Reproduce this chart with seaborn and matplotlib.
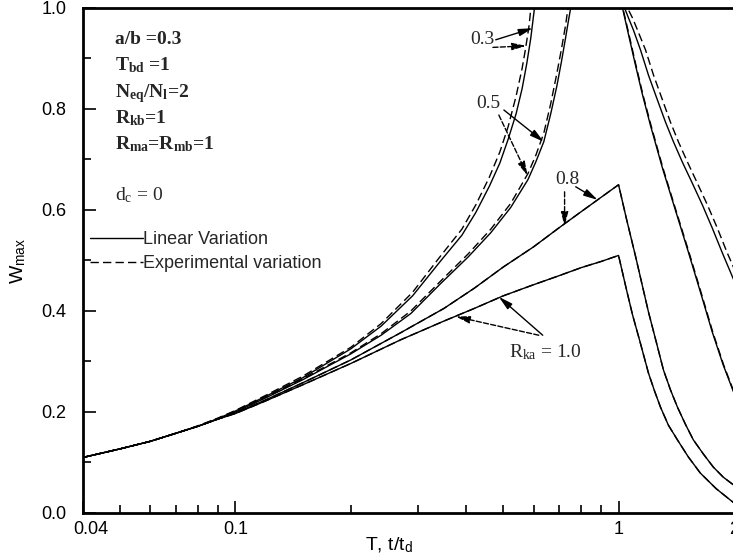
import matplotlib
matplotlib.use("Agg")
import matplotlib.pyplot as plt
import matplotlib.transforms as mtransforms
from matplotlib.lines import Line2D
from matplotlib.ticker import FixedLocator, FixedFormatter, NullFormatter
import pandas as pd
import seaborn as sns

# ---- data: maximum deflection W_max versus time ratio T = t/t_d ----
# Each curve rises up to T = 1 and then decays; values above 1.0 lie outside the frame.
T_lin_03 = [0.04, 0.05, 0.06, 0.07, 0.08, 0.09, 0.1, 0.12, 0.15, 0.2, 0.24, 0.29, 0.344,
            0.39, 0.424, 0.46, 0.49, 0.515, 0.54, 0.56, 0.576, 0.59, 0.6, 0.61,
            1.0, 1.037, 1.062, 1.094, 1.141, 1.197, 1.263, 1.326, 1.391, 1.467, 1.558,
            1.655, 1.757, 1.866, 2.0]
W_lin_03 = [0.110, 0.127, 0.142, 0.158, 0.172, 0.187, 0.202, 0.231, 0.268, 0.325, 0.370, 0.430, 0.500,
            0.550, 0.595, 0.647, 0.693, 0.740, 0.790, 0.840, 0.890, 0.940, 0.985, 1.03,
            1.05, 1.0, 0.980, 0.956, 0.917, 0.867, 0.818, 0.774, 0.735, 0.695, 0.653,
            0.610, 0.564, 0.515, 0.461]
T_exp_03 = [0.04, 0.05, 0.06, 0.07, 0.08, 0.09, 0.1, 0.12, 0.15, 0.2, 0.24, 0.29, 0.344,
            0.39, 0.424, 0.46, 0.49, 0.515, 0.54, 0.56, 0.572, 0.584, 0.594,
            1.0, 1.055, 1.088, 1.121, 1.176, 1.234, 1.302, 1.366, 1.433, 1.513, 1.606,
            1.706, 1.811, 1.922, 2.0]
W_exp_03 = [0.110, 0.127, 0.142, 0.158, 0.173, 0.188, 0.203, 0.233, 0.271, 0.328, 0.375, 0.437, 0.510,
            0.562, 0.610, 0.665, 0.715, 0.765, 0.825, 0.880, 0.920, 0.965, 1.02,
            1.05, 1.0, 0.980, 0.956, 0.917, 0.867, 0.818, 0.774, 0.735, 0.695, 0.653,
            0.610, 0.564, 0.515, 0.485]

T_lin_05 = [0.04, 0.05, 0.06, 0.07, 0.08, 0.09, 0.1, 0.12, 0.15, 0.2, 0.24, 0.287, 0.344,
            0.405, 0.464, 0.523, 0.58, 0.608, 0.638, 0.665, 0.69, 0.71, 0.727, 0.74, 0.75, 0.76,
            1.0, 1.024, 1.062, 1.107, 1.155, 1.211, 1.302, 1.407, 1.521, 1.635, 1.757, 1.876, 2.0]
W_lin_05 = [0.110, 0.127, 0.142, 0.158, 0.172, 0.186, 0.200, 0.228, 0.264, 0.315, 0.352, 0.395, 0.455,
            0.507, 0.555, 0.605, 0.660, 0.695, 0.735, 0.790, 0.845, 0.895, 0.940, 0.975, 1.0, 1.03,
            1.04, 1.0, 0.947, 0.887, 0.828, 0.768, 0.683, 0.600, 0.517, 0.438, 0.358, 0.293, 0.238]
T_exp_05 = [0.04, 0.05, 0.06, 0.07, 0.08, 0.09, 0.1, 0.12, 0.15, 0.2, 0.24, 0.287, 0.344,
            0.405, 0.464, 0.523, 0.58, 0.608, 0.638, 0.665, 0.69, 0.71, 0.727, 0.738, 0.748,
            1.0, 1.026, 1.065, 1.11, 1.158, 1.215, 1.306, 1.411, 1.526, 1.64, 1.762, 1.881, 2.0]
W_exp_05 = [0.110, 0.127, 0.142, 0.158, 0.172, 0.187, 0.201, 0.229, 0.266, 0.317, 0.355, 0.400, 0.460,
            0.513, 0.562, 0.613, 0.672, 0.708, 0.752, 0.810, 0.870, 0.920, 0.965, 1.0, 1.03,
            1.04, 1.0, 0.947, 0.887, 0.828, 0.768, 0.683, 0.600, 0.517, 0.438, 0.358, 0.293, 0.240]

T_lin_08 = [0.04, 0.05, 0.06, 0.07, 0.08, 0.09, 0.1, 0.12, 0.15, 0.2, 0.27, 0.35, 0.42,
            0.5, 0.6, 0.7, 0.8, 0.9, 1.0, 1.049, 1.107, 1.197, 1.256, 1.31, 1.366, 1.424,
            1.494, 1.567, 1.664, 1.767, 1.876, 2.0]
W_lin_08 = [0.110, 0.127, 0.142, 0.158, 0.172, 0.186, 0.198, 0.224, 0.258, 0.303, 0.357, 0.405, 0.445,
            0.487, 0.527, 0.565, 0.597, 0.625, 0.650, 0.582, 0.509, 0.398, 0.337, 0.283, 0.244, 0.210,
            0.176, 0.145, 0.117, 0.091, 0.071, 0.055]
T_exp_08 = T_lin_08
W_exp_08 = W_lin_08

T_lin_10 = [0.04, 0.05, 0.06, 0.07, 0.08, 0.09, 0.1, 0.12, 0.15, 0.2, 0.27, 0.35, 0.42,
            0.5, 0.6, 0.7, 0.8, 0.9, 1.0, 1.049, 1.088, 1.134, 1.197, 1.241, 1.286, 1.349,
            1.424, 1.521, 1.635, 1.799, 2.0]
W_lin_10 = [0.110, 0.127, 0.142, 0.158, 0.172, 0.186, 0.197, 0.222, 0.254, 0.296, 0.343, 0.380, 0.405,
            0.430, 0.452, 0.470, 0.486, 0.498, 0.510, 0.442, 0.392, 0.343, 0.277, 0.242, 0.210, 0.174,
            0.145, 0.111, 0.079, 0.048, 0.020]
T_exp_10 = T_lin_10
W_exp_10 = W_lin_10

x_ticks = [0.04, 0.1, 1, 2]
x_tick_labels = ["0.04", "0.1", "1", "2"]
y_ticks = [0.0, 0.2, 0.4, 0.6, 0.8, 1.0]
y_tick_labels = ["0.0", "0.2", "0.4", "0.6", "0.8", "1.0"]

param_lines = ["a/b =0.3",
               r"$\mathbf{T_{bd}}$ =1",
               r"$\mathbf{N_{eq}/N_{l}}$=2",
               r"$\mathbf{R_{kb}}$=1",
               r"$\mathbf{R_{ma}}$=$\mathbf{R_{mb}}$=1"]

# ---- style ----
sns.set_theme(style="ticks")
plt.rcParams["font.family"] = ["Liberation Sans", "DejaVu Sans"]
plt.rcParams["mathtext.fontset"] = "custom"
plt.rcParams["mathtext.rm"] = "Liberation Serif"
plt.rcParams["mathtext.it"] = "Liberation Serif:italic"
plt.rcParams["mathtext.bf"] = "Liberation Serif:bold"
plt.rcParams["mathtext.sf"] = "Liberation Sans"

fig = plt.figure(figsize=(7.33, 5.59), dpi=100)
ax = fig.add_axes([0.1132, 0.0823, 0.888, 0.9034])

DASH = (0, (6, 3))
series = [
    (T_lin_03, W_lin_03, "-"), (T_exp_03, W_exp_03, DASH),
    (T_lin_05, W_lin_05, "-"), (T_exp_05, W_exp_05, DASH),
    (T_lin_08, W_lin_08, "-"), (T_exp_08, W_exp_08, DASH),
    (T_lin_10, W_lin_10, "-"), (T_exp_10, W_exp_10, DASH),
]
for t, w, ls in series:
    df = pd.DataFrame({"T": t, "W": w})
    sns.lineplot(data=df, x="T", y="W", ax=ax, color="black", lw=1.0,
                 sort=False, estimator=None, linestyle=ls)

ax.set_xscale("log")
ax.set_xlim(0.04, 2)
ax.set_ylim(0, 1)

# ticks
ax.xaxis.set_major_locator(FixedLocator(x_ticks))
ax.xaxis.set_major_formatter(FixedFormatter(x_tick_labels))
minor_x = [0.05, 0.06, 0.07, 0.08, 0.09, 0.2, 0.3, 0.4, 0.5, 0.6, 0.7, 0.8, 0.9]
ax.xaxis.set_minor_locator(FixedLocator(minor_x))
ax.xaxis.set_minor_formatter(NullFormatter())
ax.yaxis.set_major_locator(FixedLocator(y_ticks))
ax.yaxis.set_major_formatter(FixedFormatter(y_tick_labels))
ax.yaxis.set_minor_locator(FixedLocator([0.1, 0.3, 0.5, 0.7, 0.9]))
ax.tick_params(which="major", direction="in", length=9, width=1.2, labelsize=13,
               color="black", labelcolor="black", pad=6)
ax.tick_params(which="minor", direction="in", length=6, width=1.2, color="black")
ax.tick_params(axis="y", which="major", pad=12)

for s in ["left", "bottom", "top"]:
    ax.spines[s].set_linewidth(2.0)
    ax.spines[s].set_color("black")
ax.spines["right"].set_visible(False)

# nudge the first x tick label off the corner
shift = mtransforms.ScaledTranslation(8 / 100, 0, fig.dpi_scale_trans)
first_lbl = ax.get_xticklabels()[0]
first_lbl.set_transform(first_lbl.get_transform() + shift)

ax.set_xlabel(r"T, t/t$_{\mathsf{d}}$", fontsize=14, color="black")
ax.set_ylabel(r"W$_{\mathsf{max}}$", fontsize=14, color="black")
ax.xaxis.set_label_coords(0.47, -0.045)
ax.yaxis.set_label_coords(-0.085, 0.5)

# parameter block
y0 = 0.928
for i, s in enumerate(param_lines):
    ax.text(0.049, y0 - i * 0.052, s, transform=ax.transAxes, fontsize=14,
            family="Liberation Serif", weight="bold", va="baseline", ha="left")
ax.text(0.049, 0.620, r"d$_{\mathrm{c}}$ = 0", transform=ax.transAxes, fontsize=14,
        family="Liberation Serif", va="baseline", ha="left")

# legend
handles = [Line2D([], [], color="black", lw=1.0),
           Line2D([], [], color="black", lw=1.0, linestyle=DASH)]
ax.legend(handles, ["Linear Variation", "Experimental variation"], loc="upper left",
          bbox_to_anchor=(0.0, 0.573), frameon=False, fontsize=13,
          handlelength=2.9, handletextpad=0.05, labelspacing=0.4, borderaxespad=0.2,
          borderpad=0.2)

# curve labels with arrows
def arrow(xy, xytext, dashed=False):
    ax.annotate("", xy=xy, xytext=xytext,
                arrowprops=dict(arrowstyle="-|>,head_length=0.7,head_width=0.18",
                                color="black", lw=1.0, shrinkA=0, shrinkB=0,
                                mutation_scale=12,
                                linestyle="--" if dashed else "-"))

lab = dict(fontsize=14, family="Liberation Serif", ha="center", va="center")
ax.text(0.440, 0.937, "0.3", **lab)
arrow((0.597, 0.96), (0.478, 0.937))
arrow((0.574, 0.925), (0.47, 0.922), dashed=True)

ax.text(0.456, 0.81, "0.5", **lab)
arrow((0.638, 0.735), (0.502, 0.798))
arrow((0.579, 0.668), (0.487, 0.788), dashed=True)

ax.text(0.735, 0.66, "0.8", **lab)
arrow((0.882, 0.620), (0.773, 0.646))
arrow((0.723, 0.568), (0.723, 0.636), dashed=True)

ax.text(0.645, 0.319, r"R$_{\mathrm{ka}}$ = 1.0", **lab)
arrow((0.487, 0.428), (0.634, 0.352))
arrow((0.376, 0.389), (0.619, 0.352), dashed=True)

fig.savefig("out.png", dpi=100)
